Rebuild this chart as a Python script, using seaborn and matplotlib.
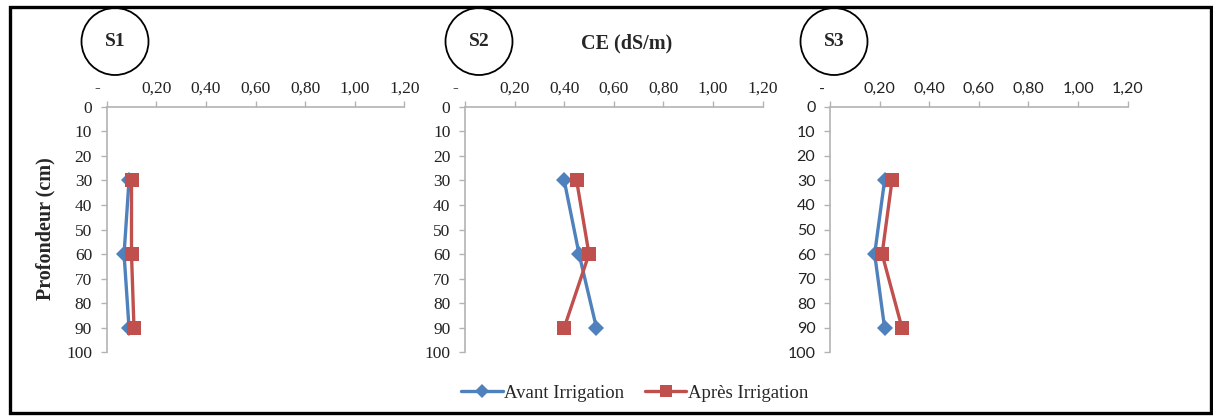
import matplotlib
matplotlib.use("Agg")
import matplotlib.pyplot as plt
import pandas as pd
import seaborn as sns
from matplotlib.lines import Line2D
from matplotlib.patches import Ellipse, Rectangle

# depth of each sample (cm)
depths = [30, 60, 90]

# electrical conductivity CE (dS/m)
s1_avant = [0.09, 0.07, 0.09]
s1_apres = [0.10, 0.10, 0.11]
s2_avant = [0.40, 0.46, 0.53]
s2_apres = [0.45, 0.50, 0.40]
s3_avant = [0.22, 0.18, 0.22]
s3_apres = [0.25, 0.21, 0.29]

stations = ["S1", "S2", "S3"]
series_names = ["Avant Irrigation", "Après Irrigation"]
x_ticks = [0, 0.2, 0.4, 0.6, 0.8, 1.0, 1.2]
# the zero label is an Excel accounting dash, sitting a little left of the axis
x_ticklabels = ["-    ", "0,20", "0,40", "0,60", "0,80", "1,00", "1,20"]
y_ticks = [0, 10, 20, 30, 40, 50, 60, 70, 80, 90, 100]

BLUE = "#4F81BD"
RED = "#C0504D"
SPINE = "#B3B3B3"

rows = []
for st, av, ap in zip(stations, [s1_avant, s2_avant, s3_avant], [s1_apres, s2_apres, s3_apres]):
    for d, a, b in zip(depths, av, ap):
        rows.append({"station": st, "serie": series_names[0], "depth": d, "ce": a})
        rows.append({"station": st, "serie": series_names[1], "depth": d, "ce": b})
df = pd.DataFrame(rows)

sns.set_style("white")
plt.rcParams["font.family"] = ["Liberation Serif", "DejaVu Serif"]

W, H = 1213, 417
fig = plt.figure(figsize=(W / 100, H / 100), dpi=100)

# axes boxes in pixels (left, top, right, bottom)
boxes = [(106.7, 106.7, 404.3, 352.3),
         (465.0, 106.7, 762.6, 352.3),
         (830.0, 106.7, 1127.7, 352.3)]
circle_x = [115, 479, 834]
tick_fonts = ["Liberation Serif", "Liberation Serif", "Lato"]
tick_sizes = [12.5, 12.5, 11.5]

axes = []
for i, st in enumerate(stations):
    l, t, r, b = boxes[i]
    ax = fig.add_axes([l / W, 1 - b / H, (r - l) / W, (b - t) / H])
    sub = df[df["station"] == st]
    sns.lineplot(data=sub, x="ce", y="depth", hue="serie", style="serie",
                 hue_order=series_names, style_order=series_names,
                 palette={series_names[0]: BLUE, series_names[1]: RED},
                 markers={series_names[0]: "D", series_names[1]: "s"},
                 dashes=False, orient="y", sort=True, linewidth=2.4,
                 markersize=8, markeredgewidth=0, legend=False, ax=ax)
    for ln, ms in zip(ax.lines, [8, 9.5]):
        ln.set_markersize(ms)
    ax.set_xlim(0, 1.2)
    ax.set_ylim(100, 0)
    ax.xaxis.tick_top()
    ax.set_xticks(x_ticks)
    ax.set_xticklabels(x_ticklabels)
    ax.set_yticks(y_ticks)
    ax.set_xlabel("")
    ax.set_ylabel("")
    for side in ["right", "bottom"]:
        ax.spines[side].set_visible(False)
    for side in ["left", "top"]:
        ax.spines[side].set_color(SPINE)
        ax.spines[side].set_linewidth(1.2)
    ax.tick_params(axis="both", which="both", direction="out", color=SPINE,
                   width=1.0, length=4.5, labelsize=tick_sizes[i],
                   labelcolor="#222222")
    ax.tick_params(axis="x", pad=3, top=True, bottom=False)
    ax.tick_params(axis="y", pad=6, left=True)
    for lab in ax.get_xticklabels() + ax.get_yticklabels():
        lab.set_fontfamily(tick_fonts[i])
    ax.set_facecolor("white")
    axes.append(ax)

    # station label inside a circle
    cx, cy, rad = circle_x[i], 41.5, 33.5
    fig.patches.append(Ellipse((cx / W, 1 - cy / H), 2 * rad / W, 2 * rad / H,
                               transform=fig.transFigure, fill=False,
                               edgecolor="black", linewidth=1.3))
    fig.text(cx / W, 1 - cy / H, st, ha="center", va="center",
             fontsize=14, fontweight="bold")

fig.text(626.7 / W, 1 - 43 / H, "CE (dS/m)", ha="center", va="center",
         fontsize=14.5, fontweight="bold")
fig.text(45 / W, 1 - 229 / H, "Profondeur (cm)", ha="center", va="center",
         rotation=90, fontsize=14.5, fontweight="bold")

handles = [Line2D([], [], color=BLUE, marker="D", markersize=7, linewidth=2.4,
                  markeredgewidth=0),
           Line2D([], [], color=RED, marker="s", markersize=8, linewidth=2.4,
                  markeredgewidth=0)]
fig.legend(handles, series_names, loc="center", bbox_to_anchor=(635 / W, 1 - 393 / H),
           ncol=2, frameon=False, fontsize=13.5, handlelength=2.2,
           handletextpad=0.1, columnspacing=1.1)

# outer frame
fig.patches.append(Rectangle((9.5 / W, 1 - 413 / H), 1201 / W, 406 / H,
                             transform=fig.transFigure, fill=False,
                             edgecolor="black", linewidth=2.4))

fig.savefig("out.png", dpi=100)
